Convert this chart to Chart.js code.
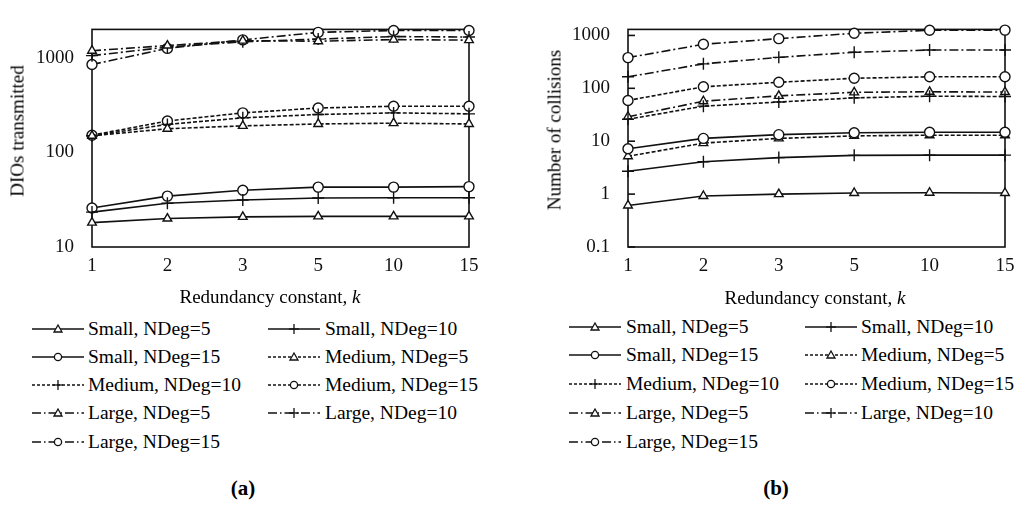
<!DOCTYPE html>
<html><head><meta charset="utf-8">
<script src="https://cdn.jsdelivr.net/npm/chart.js@4.4.1/dist/chart.umd.min.js"></script>
<style>
body{margin:0;background:#fff;width:1024px;height:508px;overflow:hidden;position:relative;font-family:"Liberation Serif","Times New Roman",serif;color:#000}
.cv{position:absolute;top:0;width:512px;height:310px}
.t{position:absolute;font-size:19px;white-space:nowrap;line-height:1}
.yt{transform:translate(-50%,-50%) rotate(-90deg)}
.xt{transform:translate(-50%,-50%)}
.lt{position:absolute;font-size:19.5px;white-space:nowrap;line-height:1;transform:translateY(-50%)}
.ls{position:absolute}
.cap{position:absolute;font-size:21px;font-weight:bold;line-height:1;transform:translate(-50%,-50%)}
</style></head>
<body>
<div class="cv" style="left:0"><canvas id="ca"></canvas></div>
<div class="cv" style="left:512px"><canvas id="cb"></canvas></div>
<div class="t yt" style="left:17px;top:131px">DIOs transmitted</div>
<div class="t yt" style="left:554px;top:130px">Number of collisions</div>
<div class="t xt" style="left:270px;top:296px">Redundancy constant, <i>k</i></div>
<div class="t xt" style="left:815px;top:297px">Redundancy constant, <i>k</i></div>
<div class="cap" style="left:243px;top:488px">(a)</div>
<div class="cap" style="left:776px;top:488px">(b)</div>
<div id="legs"></div>
<script>
const categories = ['1','2','3','5','10','15'];
const seriesLabels = ['Small, NDeg=5','Small, NDeg=10','Small, NDeg=15','Medium, NDeg=5','Medium, NDeg=10','Medium, NDeg=15','Large, NDeg=5','Large, NDeg=10','Large, NDeg=15'];
const ticksA = [10, 100, 1000];
const ticksB = [0.1, 1, 10, 100, 1000];

// (a) DIOs transmitted
const diosSmall5   = [18.1, 20, 20.8, 21.1, 21.1, 21.1];
const diosSmall10  = [23.4, 29, 31.4, 33, 33.2, 33.2];
const diosSmall15  = [25.8, 34.5, 39.8, 43, 43, 43.5];
const diosMedium5  = [150, 178, 191, 200, 204, 200];
const diosMedium10 = [150, 198, 232, 252, 262, 256];
const diosMedium15 = [152, 215, 262, 295, 308, 308];
const diosLarge5   = [1190, 1350, 1520, 1500, 1560, 1540];
const diosLarge10  = [1055, 1300, 1480, 1580, 1680, 1660];
const diosLarge15  = [850, 1260, 1550, 1860, 1950, 1950];

// (b) Number of collisions
const colSmall5   = [0.61, 0.92, 1.0, 1.05, 1.06, 1.05];
const colSmall10  = [2.7, 4.1, 4.9, 5.4, 5.45, 5.45];
const colSmall15  = [7.2, 11.3, 13.3, 14.5, 14.8, 14.8];
const colMedium5  = [5.2, 9.2, 11.3, 12.6, 13, 13];
const colMedium10 = [26, 46, 55, 66, 71, 70];
const colMedium15 = [59, 107, 130, 155, 165, 165];
const colLarge5   = [29, 57, 72, 84, 86, 85];
const colLarge10  = [165, 290, 385, 480, 530, 530];
const colLarge15  = [380, 680, 870, 1100, 1250, 1260];

const dataA = [diosSmall5,diosSmall10,diosSmall15,diosMedium5,diosMedium10,diosMedium15,diosLarge5,diosLarge10,diosLarge15];
const dataB = [colSmall5,colSmall10,colSmall15,colMedium5,colMedium10,colMedium15,colLarge5,colLarge10,colLarge15];

const markers = ['triangle','cross','circle'];
const dashes = [[], [4,2], [9,3,2,3]];
const svgDashes = ['', '3,2', '9,3,1.5,3'];

function makeDatasets(arrs){
  return arrs.map((d,i)=>({
    label: seriesLabels[i], data: d,
    borderColor:'#111', backgroundColor:'#fff', borderWidth:1.6,
    borderDash: dashes[Math.floor(i/3)],
    pointStyle: markers[i%3], pointRadius: i%3===1?6:5, pointBorderWidth:1.4,
    pointBorderColor:'#111', pointBackgroundColor:'#fff',
    tension:0, clip:false
  }));
}

const boxPlugin = {
  id:'box',
  beforeDatasetsDraw(chart){
    const {ctx, chartArea:a} = chart;
    ctx.save(); ctx.strokeStyle='#111'; ctx.lineWidth=1.6;
    ctx.strokeRect(a.left, a.top, a.right-a.left, a.bottom-a.top);
    if (chart.options.innerTicks){
      const y = chart.scales.y;
      y.ticks.forEach(t=>{ const p=y.getPixelForValue(t.value);
        ctx.beginPath(); ctx.moveTo(a.left,p); ctx.lineTo(a.left+7,p); ctx.stroke(); });
    }
    ctx.restore();
  }
};

function makeChart(id, arrs, yMin, yMax, tickVals, yWidth, padRight, padTop, inner){
  return new Chart(document.getElementById(id), {
    type:'line',
    data:{labels:categories, datasets:makeDatasets(arrs)},
    plugins:[boxPlugin],
    options:{
      responsive:true, maintainAspectRatio:false, animation:false,
      innerTicks: inner,
      layout:{padding:{left:0,right:padRight,top:padTop,bottom:0}},
      plugins:{legend:{display:false}, tooltip:{enabled:false}},
      scales:{
        x:{type:'category', offset:false,
           grid:{display:false, drawTicks:false}, border:{display:false},
           ticks:{color:'#111', font:{family:'"Liberation Serif"', size:19}, padding:8, maxRotation:0},
           afterFit(s){ s.height = 63; }},
        y:{type:'logarithmic', min:yMin, max:yMax,
           grid:{display:false, drawTicks:false}, border:{display:false},
           afterBuildTicks(s){ s.ticks = tickVals.map(v=>({value:v})); },
           ticks:{color:'#111', font:{family:'"Liberation Serif"', size:19}, padding:18,
                  callback:(v)=>String(v)},
           afterFit(s){ s.width = yWidth; }}
      }
    }
  });
}

makeChart('ca', dataA, 10, 2000, ticksA, 92, 43, 22, false);
makeChart('cb', dataB, 0.1, 1300, ticksB, 116, 19, 23, true);

// HTML legends
function markerSvg(kind){
  const cx=26, cy=7;
  if (kind==='triangle') return `<polygon points="${cx},${cy-4} ${cx+4},${cy+3} ${cx-4},${cy+3}" fill="#fff" stroke="#111" stroke-width="1.3"/>`;
  if (kind==='circle') return `<circle cx="${cx}" cy="${cy}" r="3.6" fill="#fff" stroke="#111" stroke-width="1.3"/>`;
  return `<line x1="${cx-5}" y1="${cy}" x2="${cx+5}" y2="${cy}" stroke="#111" stroke-width="1.3"/><line x1="${cx}" y1="${cy-5}" x2="${cx}" y2="${cy+5}" stroke="#111" stroke-width="1.3"/>`;
}
function buildLegend(rows, c1s, c1t, c2s, c2t){
  const host = document.getElementById('legs');
  seriesLabels.forEach((lab,i)=>{
    const r = Math.floor(i/2), c = i%2;
    const y = rows[r];
    const sx = c===0?c1s:c2s, tx = c===0?c1t:c2t;
    const dash = svgDashes[Math.floor(i/3)];
    const svg = document.createElementNS('http://www.w3.org/2000/svg','svg');
    svg.setAttribute('width','52'); svg.setAttribute('height','14');
    svg.setAttribute('class','ls');
    svg.style.left = sx+'px'; svg.style.top = (y-7)+'px';
    svg.innerHTML = `<line x1="0" y1="7" x2="52" y2="7" stroke="#111" stroke-width="1.5" ${dash?`stroke-dasharray="${dash}"`:''}/>` + markerSvg(markers[i%3]);
    host.appendChild(svg);
    const t = document.createElement('div');
    t.className='lt'; t.style.left = tx+'px'; t.style.top = y+'px';
    t.textContent = lab;
    host.appendChild(t);
  });
}
buildLegend([329,357,385,413,442], 32, 88, 268, 325);
buildLegend([327,355,384,413,442], 569, 626, 805, 861);
</script>
</body></html>
